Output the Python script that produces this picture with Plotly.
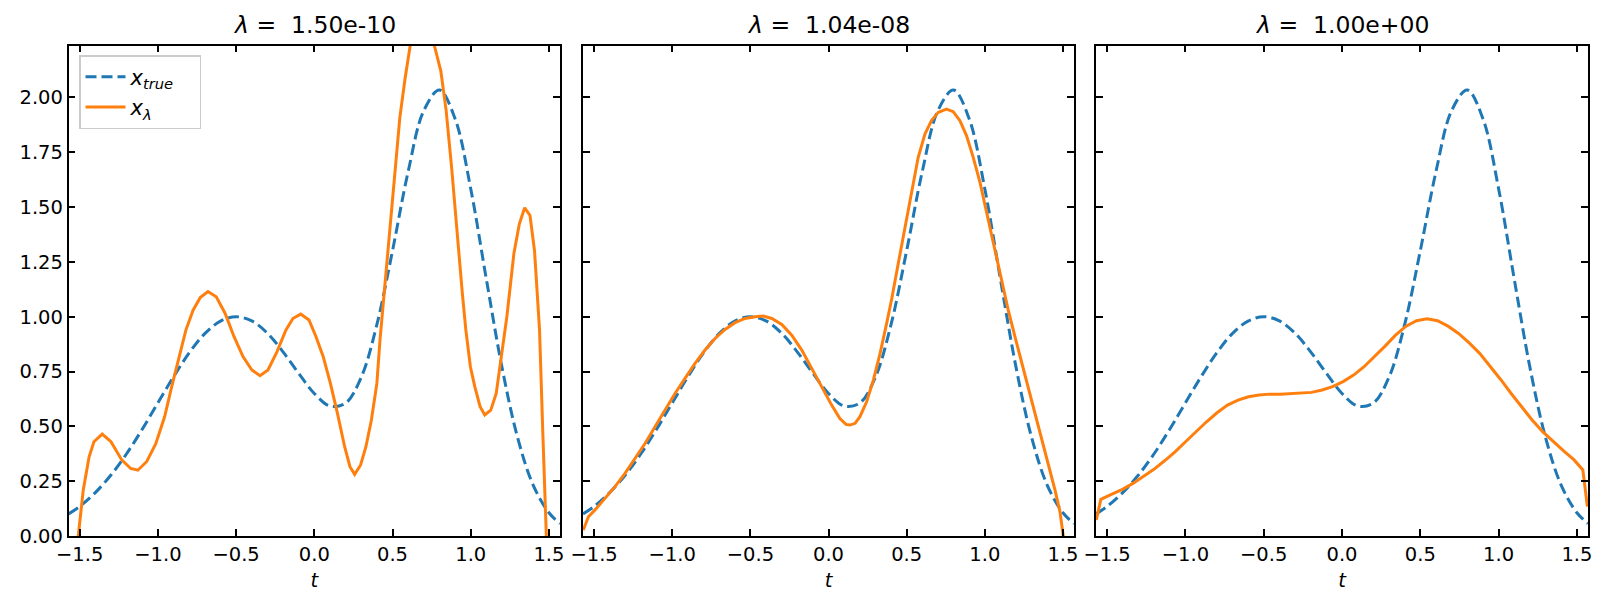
import plotly.graph_objects as go

# ---------------- data ----------------
t_true = [-1.5708, -1.5, -1.4, -1.3, -1.2, -1.1, -1.0, -0.9, -0.8, -0.7, -0.6, -0.5,
          -0.4, -0.3, -0.2, -0.1, 0.0, 0.1, 0.2, 0.3, 0.4, 0.5, 0.6, 0.7, 0.8, 0.9,
          1.0, 1.1, 1.2, 1.3, 1.4, 1.5, 1.5708]
x_true = [0.101, 0.135, 0.198, 0.278, 0.375, 0.487, 0.607, 0.726, 0.835, 0.923, 0.980, 1.000,
          0.981, 0.925, 0.840, 0.742, 0.650, 0.593, 0.606, 0.724, 0.964, 1.301, 1.662, 1.940, 2.034, 1.903,
          1.584, 1.171, 0.769, 0.448, 0.231, 0.106, 0.057]

t_lam1 = [-1.555, -1.51, -1.477, -1.44, -1.409, -1.356, -1.30, -1.231, -1.174, -1.128, -1.071, -1.014,
          -0.957, -0.912, -0.866, -0.821, -0.775, -0.729, -0.68, -0.627, -0.57, -0.513, -0.456, -0.399,
          -0.347, -0.296, -0.239, -0.182, -0.137, -0.087, -0.034, 0.011, 0.057, 0.103, 0.148, 0.194,
          0.228, 0.258, 0.296, 0.33, 0.365, 0.40, 0.42, 0.445, 0.479, 0.513, 0.547, 0.581, 0.611, 0.64,
          0.67, 0.70, 0.73, 0.77, 0.809, 0.843, 0.878, 0.912, 0.946, 0.969, 0.998, 1.026, 1.06, 1.09,
          1.128, 1.163, 1.197, 1.231, 1.276, 1.311, 1.345, 1.379, 1.408, 1.44, 1.461, 1.476, 1.49, 1.555]
x_lam1 = [-0.30, 0.0, 0.21, 0.36, 0.43, 0.465, 0.43, 0.347, 0.308, 0.30, 0.34, 0.42,
          0.544, 0.68, 0.818, 0.939, 1.03, 1.088, 1.115, 1.091, 1.015, 0.909, 0.818, 0.757,
          0.731, 0.757, 0.84, 0.939, 0.992, 1.012, 0.985, 0.909, 0.818, 0.696, 0.559, 0.407,
          0.316, 0.281, 0.324, 0.407, 0.529, 0.696, 0.894, 1.10, 1.379, 1.652, 1.909, 2.09, 2.23, 2.36,
          2.43, 2.42, 2.36, 2.23, 2.12, 1.94, 1.68, 1.38, 1.11, 0.939, 0.772, 0.681, 0.59, 0.552,
          0.574, 0.65, 0.818, 1.0, 1.288, 1.424, 1.497, 1.462, 1.30, 0.94, 0.47, 0.155, -0.2, -1.5]

t_lam2 = [-1.569, -1.536, -1.494, -1.43, -1.366, -1.302, -1.238, -1.174, -1.11, -1.046, -0.982, -0.918,
          -0.854, -0.79, -0.726, -0.662, -0.598, -0.534, -0.47, -0.417, -0.363, -0.299, -0.235, -0.171,
          -0.107, -0.044, 0.02, 0.073, 0.112, 0.137, 0.17, 0.201, 0.244, 0.287, 0.33, 0.372, 0.404,
          0.446, 0.489, 0.531, 0.574, 0.617, 0.659, 0.702, 0.755, 0.798, 0.841, 0.883, 0.926, 0.969,
          1.011, 1.054, 1.096, 1.15, 1.193, 1.235, 1.278, 1.321, 1.364, 1.406, 1.449, 1.481, 1.502, 1.555]
x_lam2 = [0.027, 0.088, 0.119, 0.172, 0.225, 0.286, 0.354, 0.422, 0.498, 0.574, 0.65, 0.719,
          0.787, 0.848, 0.901, 0.942, 0.973, 0.992, 1.0, 1.003, 0.992, 0.965, 0.916, 0.848,
          0.764, 0.681, 0.597, 0.536, 0.509, 0.506, 0.514, 0.544, 0.612, 0.711, 0.833, 0.97, 1.08,
          1.242, 1.409, 1.576, 1.727, 1.833, 1.895, 1.932, 1.947, 1.935, 1.894, 1.826, 1.727, 1.614,
          1.477, 1.348, 1.212, 1.03, 0.909, 0.795, 0.681, 0.567, 0.453, 0.331, 0.21, 0.111, 0.0, -0.14]

t_lam3 = [-1.569, -1.54, -1.469, -1.402, -1.335, -1.268, -1.201, -1.133, -1.066, -0.999, -0.932, -0.865,
          -0.798, -0.731, -0.664, -0.597, -0.53, -0.463, -0.396, -0.329, -0.262, -0.195, -0.127, -0.06,
          0.007, 0.074, 0.141, 0.208, 0.275, 0.342, 0.409, 0.476, 0.543, 0.61, 0.677, 0.744, 0.812,
          0.879, 0.946, 1.013, 1.08, 1.147, 1.214, 1.281, 1.348, 1.415, 1.482, 1.538, 1.567]
x_lam3 = [0.073, 0.167, 0.191, 0.213, 0.24, 0.27, 0.304, 0.343, 0.384, 0.43, 0.476, 0.521,
          0.562, 0.597, 0.62, 0.635, 0.643, 0.647, 0.647, 0.649, 0.65, 0.655, 0.666, 0.681,
          0.704, 0.734, 0.772, 0.818, 0.866, 0.916, 0.957, 0.982, 0.991, 0.982, 0.957, 0.924, 0.881,
          0.833, 0.775, 0.714, 0.65, 0.59, 0.529, 0.476, 0.43, 0.388, 0.347, 0.301, 0.134]

titles = ["1.50e-10", "1.04e-08", "1.00e+00"]
x_ticks = [-1.5, -1.0, -0.5, 0.0, 0.5, 1.0, 1.5]
y_ticks = [0.0, 0.25, 0.5, 0.75, 1.0, 1.25, 1.5, 1.75, 2.0]

# ---------------- figure ----------------
W, H = 1608, 607
FONT = "DejaVu Sans"
BLUE = "#1f77b4"
ORANGE = "#ff7f0e"
x_dom = [(68.6 / W, 560 / W), (583 / W, 1074 / W), (1096 / W, 1588 / W)]
y_dom = (1 - 536 / H, 1 - 45.5 / H)

lam_series = [(t_lam1, x_lam1), (t_lam2, x_lam2), (t_lam3, x_lam3)]
PAD = "\u00a0" * 3

fig = go.Figure()
for i in range(3):
    xa = "x" if i == 0 else f"x{i+1}"
    ya = "y" if i == 0 else f"y{i+1}"
    fig.add_trace(go.Scatter(
        x=t_true, y=x_true, mode="lines", xaxis=xa, yaxis=ya,
        line=dict(color=BLUE, width=3, dash="11px,5px", shape="spline", smoothing=1.0),
        name="<i>x</i><sub><i>true</i></sub>" + PAD, showlegend=(i == 0)))
    tl, xl = lam_series[i]
    fig.add_trace(go.Scatter(
        x=tl, y=xl, mode="lines", xaxis=xa, yaxis=ya,
        line=dict(color=ORANGE, width=3),
        name="<i>x</i><sub><i>λ</i></sub>", showlegend=(i == 0)))

axis_common = dict(
    showline=True, linecolor="black", linewidth=1.6, mirror="allticks",
    ticks="inside", ticklen=7, tickwidth=1.6, tickcolor="black",
    showgrid=False, zeroline=False, automargin=False,
    tickfont=dict(family=FONT, size=19.5, color="black"),
)

layout = dict(
    width=W, height=H, margin=dict(l=0, r=0, t=0, b=0),
    paper_bgcolor="white", plot_bgcolor="white",
    font=dict(family=FONT, size=19.5, color="black"),
    showlegend=True,
    legend=dict(x=79 / W, y=1 - 55 / H, xanchor="left", yanchor="top",
                bgcolor="rgba(255,255,255,0.8)", bordercolor="#cccccc", borderwidth=1.5,
                font=dict(family=FONT, size=21, color="black"),
                tracegroupgap=0, itemwidth=40),
)
for i in range(3):
    xk = "xaxis" if i == 0 else f"xaxis{i+1}"
    yk = "yaxis" if i == 0 else f"yaxis{i+1}"
    layout[xk] = dict(axis_common, domain=list(x_dom[i]), range=[-1.5708, 1.5708],
                      tickvals=x_ticks, ticktext=[f"{v:.1f}".replace("-", "\u2212") for v in x_ticks],
                      anchor="y" if i == 0 else f"y{i+1}",
                      title=dict(text="<i>t</i>", font=dict(family=FONT, size=19.5), standoff=8))
    ydict = dict(axis_common, domain=list(y_dom), range=[0, 2.237], tickvals=y_ticks,
                 showticklabels=(i == 0), anchor="x" if i == 0 else f"x{i+1}")
    if i == 0:
        ydict["ticktext"] = [f"{v:.2f}" for v in y_ticks]
    layout[yk] = ydict

fig.update_layout(**layout)

for i in range(3):
    cx = (x_dom[i][0] + x_dom[i][1]) / 2
    fig.add_annotation(
        x=cx, y=1 - 25 / H, xref="paper", yref="paper", xanchor="center", yanchor="middle",
        text=f"<i>λ</i> =\u00a0\u00a0{titles[i]}", showarrow=False,
        font=dict(family=FONT, size=23.5, color="black"))

fig.write_html("out.html")
